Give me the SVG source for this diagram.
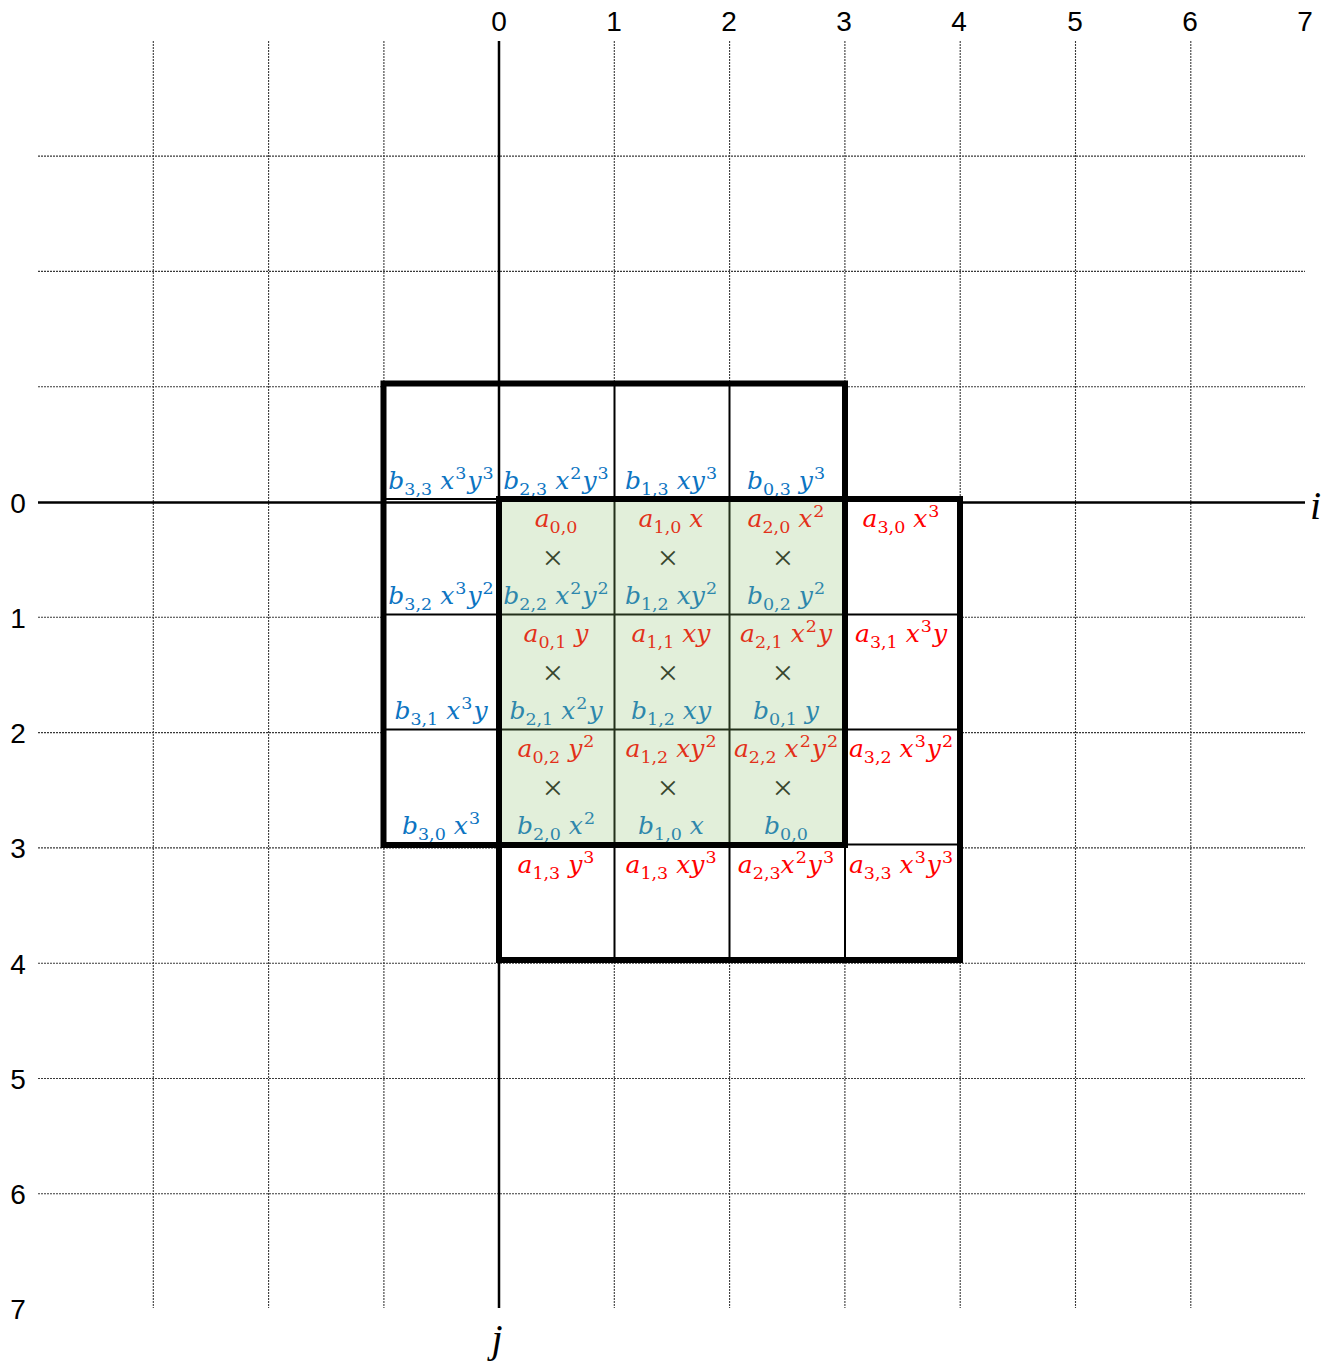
<svg xmlns="http://www.w3.org/2000/svg" width="1324" height="1365" viewBox="0 0 1324 1365">
<style>
.grid line{stroke:#3a3a3a;stroke-width:1.1;stroke-dasharray:2 1}
.axis{stroke:#000;stroke-width:2.5}
.thin{stroke:#000;stroke-width:2;fill:none}
.thick{stroke:#000;stroke-width:6;fill:none}
.num{font-family:"Liberation Sans",Arial,sans-serif;font-size:28px;fill:#000;text-anchor:middle}
.t{font-family:"DejaVu Serif",serif;font-size:25px;text-anchor:middle}
.v{font-style:italic}
.s{font-size:17.5px;font-style:normal}
.a{fill:#FF0000}
.b{fill:#0C74C2}
.x{font-family:"Liberation Serif","Times New Roman",serif;font-size:36px;fill:#1a1a1a;text-anchor:middle}
.ax{font-family:"Liberation Serif","Times New Roman",serif;font-style:italic;font-size:40px;fill:#000}
</style>
<rect width="1324" height="1365" fill="#fff"/>
<g id="grid" class="grid">
<line x1="153.3" y1="41" x2="153.3" y2="1308"/>
<line x1="268.6" y1="41" x2="268.6" y2="1308"/>
<line x1="383.9" y1="41" x2="383.9" y2="1308"/>
<line x1="614.3" y1="41" x2="614.3" y2="1308"/>
<line x1="729.6" y1="41" x2="729.6" y2="1308"/>
<line x1="844.9" y1="41" x2="844.9" y2="1308"/>
<line x1="960.2" y1="41" x2="960.2" y2="1308"/>
<line x1="1075.5" y1="41" x2="1075.5" y2="1308"/>
<line x1="1190.8" y1="41" x2="1190.8" y2="1308"/>
<line x1="38" y1="156.1" x2="1305" y2="156.1"/>
<line x1="38" y1="271.4" x2="1305" y2="271.4"/>
<line x1="38" y1="386.7" x2="1305" y2="386.7"/>
<line x1="38" y1="617.3" x2="1305" y2="617.3"/>
<line x1="38" y1="732.6" x2="1305" y2="732.6"/>
<line x1="38" y1="847.9" x2="1305" y2="847.9"/>
<line x1="38" y1="963.2" x2="1305" y2="963.2"/>
<line x1="38" y1="1078.5" x2="1305" y2="1078.5"/>
<line x1="38" y1="1193.8" x2="1305" y2="1193.8"/>
</g>
<rect id="bbox-fill" x="383.5" y="383.5" width="461.5" height="461.5" fill="#fff"/>
<g id="axes">
<line class="axis" x1="499" y1="41" x2="499" y2="1308"/>
<line class="axis" x1="38" y1="502.5" x2="1305" y2="502.5"/>
</g>
<rect id="abox-fill" x="499" y="499" width="461" height="461" fill="#fff"/>
<g id="labels-axis">
<text class="num" x="499" y="31">0</text>
<text class="num" x="614" y="31">1</text>
<text class="num" x="729" y="31">2</text>
<text class="num" x="844" y="31">3</text>
<text class="num" x="959" y="31">4</text>
<text class="num" x="1075" y="31">5</text>
<text class="num" x="1190" y="31">6</text>
<text class="num" x="1305" y="31">7</text>
<text class="num" x="18" y="513">0</text>
<text class="num" x="18" y="628">1</text>
<text class="num" x="18" y="743">2</text>
<text class="num" x="18" y="858">3</text>
<text class="num" x="18" y="974">4</text>
<text class="num" x="18" y="1089">5</text>
<text class="num" x="18" y="1204">6</text>
<text class="num" x="18" y="1319">7</text>
<text class="ax" x="1310" y="519">i</text>
<text class="ax" x="497" y="1352" text-anchor="middle">j</text>
</g>
<g id="cell-lines" class="thin">
<line x1="499" y1="383.5" x2="499" y2="845"/>
<line x1="614.5" y1="383.5" x2="614.5" y2="960"/>
<line x1="729.5" y1="383.5" x2="729.5" y2="960"/>
<line x1="845" y1="499" x2="845" y2="960"/>
<line x1="383.5" y1="499" x2="845" y2="499"/>
<line x1="383.5" y1="614.5" x2="960" y2="614.5"/>
<line x1="383.5" y1="729.5" x2="960" y2="729.5"/>
<line x1="499" y1="844.5" x2="960" y2="844.5"/>
</g>
<g id="b-terms">
<text class="t b" x="441" y="489"><tspan class="v">b</tspan><tspan class="s" dy="6">3,3</tspan><tspan class="v" dy="-6"> x</tspan><tspan class="s" dy="-10" dx="1">3</tspan><tspan class="v" dy="10" dx="1">y</tspan><tspan class="s" dy="-10" dx="1">3</tspan></text>
<text class="t b" x="556" y="489"><tspan class="v">b</tspan><tspan class="s" dy="6">2,3</tspan><tspan class="v" dy="-6"> x</tspan><tspan class="s" dy="-10" dx="1">2</tspan><tspan class="v" dy="10" dx="1">y</tspan><tspan class="s" dy="-10" dx="1">3</tspan></text>
<text class="t b" x="671" y="489"><tspan class="v">b</tspan><tspan class="s" dy="6">1,3</tspan><tspan class="v" dy="-6"> xy</tspan><tspan class="s" dy="-10" dx="1">3</tspan></text>
<text class="t b" x="786" y="489"><tspan class="v">b</tspan><tspan class="s" dy="6">0,3</tspan><tspan class="v" dy="-6"> y</tspan><tspan class="s" dy="-10" dx="1">3</tspan></text>
<text class="t b" x="441" y="604"><tspan class="v">b</tspan><tspan class="s" dy="6">3,2</tspan><tspan class="v" dy="-6"> x</tspan><tspan class="s" dy="-10" dx="1">3</tspan><tspan class="v" dy="10" dx="1">y</tspan><tspan class="s" dy="-10" dx="1">2</tspan></text>
<text class="t b" x="556" y="604"><tspan class="v">b</tspan><tspan class="s" dy="6">2,2</tspan><tspan class="v" dy="-6"> x</tspan><tspan class="s" dy="-10" dx="1">2</tspan><tspan class="v" dy="10" dx="1">y</tspan><tspan class="s" dy="-10" dx="1">2</tspan></text>
<text class="t b" x="671" y="604"><tspan class="v">b</tspan><tspan class="s" dy="6">1,2</tspan><tspan class="v" dy="-6"> xy</tspan><tspan class="s" dy="-10" dx="1">2</tspan></text>
<text class="t b" x="786" y="604"><tspan class="v">b</tspan><tspan class="s" dy="6">0,2</tspan><tspan class="v" dy="-6"> y</tspan><tspan class="s" dy="-10" dx="1">2</tspan></text>
<text class="t b" x="441" y="719"><tspan class="v">b</tspan><tspan class="s" dy="6">3,1</tspan><tspan class="v" dy="-6"> x</tspan><tspan class="s" dy="-10" dx="1">3</tspan><tspan class="v" dy="10" dx="1">y</tspan></text>
<text class="t b" x="556" y="719"><tspan class="v">b</tspan><tspan class="s" dy="6">2,1</tspan><tspan class="v" dy="-6"> x</tspan><tspan class="s" dy="-10" dx="1">2</tspan><tspan class="v" dy="10" dx="1">y</tspan></text>
<text class="t b" x="671" y="719"><tspan class="v">b</tspan><tspan class="s" dy="6">1,2</tspan><tspan class="v" dy="-6"> xy</tspan></text>
<text class="t b" x="786" y="719"><tspan class="v">b</tspan><tspan class="s" dy="6">0,1</tspan><tspan class="v" dy="-6"> y</tspan></text>
<text class="t b" x="441" y="834"><tspan class="v">b</tspan><tspan class="s" dy="6">3,0</tspan><tspan class="v" dy="-6"> x</tspan><tspan class="s" dy="-10" dx="1">3</tspan></text>
<text class="t b" x="556" y="834"><tspan class="v">b</tspan><tspan class="s" dy="6">2,0</tspan><tspan class="v" dy="-6"> x</tspan><tspan class="s" dy="-10" dx="1">2</tspan></text>
<text class="t b" x="671" y="834"><tspan class="v">b</tspan><tspan class="s" dy="6">1,0</tspan><tspan class="v" dy="-6"> x</tspan></text>
<text class="t b" x="786" y="834"><tspan class="v">b</tspan><tspan class="s" dy="6">0,0</tspan></text>
</g>
<g id="a-terms">
<text class="t a" x="556" y="527"><tspan class="v">a</tspan><tspan class="s" dy="6">0,0</tspan></text>
<text class="t a" x="671" y="527"><tspan class="v">a</tspan><tspan class="s" dy="6">1,0</tspan><tspan class="v" dy="-6"> x</tspan></text>
<text class="t a" x="786" y="527"><tspan class="v">a</tspan><tspan class="s" dy="6">2,0</tspan><tspan class="v" dy="-6"> x</tspan><tspan class="s" dy="-10" dx="1">2</tspan></text>
<text class="t a" x="901" y="527"><tspan class="v">a</tspan><tspan class="s" dy="6">3,0</tspan><tspan class="v" dy="-6"> x</tspan><tspan class="s" dy="-10" dx="1">3</tspan></text>
<text class="t a" x="556" y="642"><tspan class="v">a</tspan><tspan class="s" dy="6">0,1</tspan><tspan class="v" dy="-6"> y</tspan></text>
<text class="t a" x="671" y="642"><tspan class="v">a</tspan><tspan class="s" dy="6">1,1</tspan><tspan class="v" dy="-6"> xy</tspan></text>
<text class="t a" x="786" y="642"><tspan class="v">a</tspan><tspan class="s" dy="6">2,1</tspan><tspan class="v" dy="-6"> x</tspan><tspan class="s" dy="-10" dx="1">2</tspan><tspan class="v" dy="10" dx="1">y</tspan></text>
<text class="t a" x="901" y="642"><tspan class="v">a</tspan><tspan class="s" dy="6">3,1</tspan><tspan class="v" dy="-6"> x</tspan><tspan class="s" dy="-10" dx="1">3</tspan><tspan class="v" dy="10" dx="1">y</tspan></text>
<text class="t a" x="556" y="757"><tspan class="v">a</tspan><tspan class="s" dy="6">0,2</tspan><tspan class="v" dy="-6"> y</tspan><tspan class="s" dy="-10" dx="1">2</tspan></text>
<text class="t a" x="671" y="757"><tspan class="v">a</tspan><tspan class="s" dy="6">1,2</tspan><tspan class="v" dy="-6"> xy</tspan><tspan class="s" dy="-10" dx="1">2</tspan></text>
<text class="t a" x="786" y="757"><tspan class="v">a</tspan><tspan class="s" dy="6">2,2</tspan><tspan class="v" dy="-6"> x</tspan><tspan class="s" dy="-10" dx="1">2</tspan><tspan class="v" dy="10" dx="1">y</tspan><tspan class="s" dy="-10" dx="1">2</tspan></text>
<text class="t a" x="901" y="757"><tspan class="v">a</tspan><tspan class="s" dy="6">3,2</tspan><tspan class="v" dy="-6"> x</tspan><tspan class="s" dy="-10" dx="1">3</tspan><tspan class="v" dy="10" dx="1">y</tspan><tspan class="s" dy="-10" dx="1">2</tspan></text>
<text class="t a" x="556" y="873"><tspan class="v">a</tspan><tspan class="s" dy="6">1,3</tspan><tspan class="v" dy="-6"> y</tspan><tspan class="s" dy="-10" dx="1">3</tspan></text>
<text class="t a" x="671" y="873"><tspan class="v">a</tspan><tspan class="s" dy="6">1,3</tspan><tspan class="v" dy="-6"> xy</tspan><tspan class="s" dy="-10" dx="1">3</tspan></text>
<text class="t a" x="786" y="873"><tspan class="v">a</tspan><tspan class="s" dy="6">2,3</tspan><tspan class="v" dy="-6">x</tspan><tspan class="s" dy="-10" dx="1">2</tspan><tspan class="v" dy="10" dx="1">y</tspan><tspan class="s" dy="-10" dx="1">3</tspan></text>
<text class="t a" x="901" y="873"><tspan class="v">a</tspan><tspan class="s" dy="6">3,3</tspan><tspan class="v" dy="-6"> x</tspan><tspan class="s" dy="-10" dx="1">3</tspan><tspan class="v" dy="10" dx="1">y</tspan><tspan class="s" dy="-10" dx="1">3</tspan></text>
</g>
<g id="times">
<text class="x" x="553" y="570">×</text>
<text class="x" x="668" y="570">×</text>
<text class="x" x="783" y="570">×</text>
<text class="x" x="553" y="685">×</text>
<text class="x" x="668" y="685">×</text>
<text class="x" x="783" y="685">×</text>
<text class="x" x="553" y="800">×</text>
<text class="x" x="668" y="800">×</text>
<text class="x" x="783" y="800">×</text>
</g>
<rect id="overlap" x="499" y="499" width="346" height="346" fill="rgb(140,192,108)" fill-opacity="0.25"/>
<g id="borders">
<rect id="b-box" class="thick" x="383.5" y="383.5" width="461.5" height="461.5"/>
<rect id="a-box" class="thick" x="499" y="499" width="461" height="461"/>
</g>
</svg>
